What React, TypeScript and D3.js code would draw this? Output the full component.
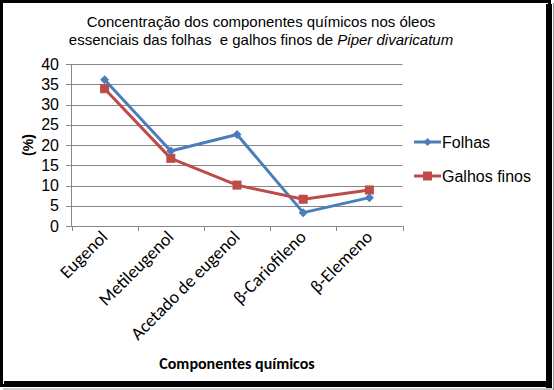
import React from "react";
import * as d3 from "d3";

const categories = ["Eugenol", "Metileugenol", "Acetado de eugenol", "β-Cariofileno", "β-Elemeno"];
const folhas = [36.1, 18.5, 22.6, 3.3, 7.0];
const galhos = [33.9, 16.7, 10.1, 6.6, 8.9];
const yTicks = [0, 5, 10, 15, 20, 25, 30, 35, 40];

const W = 554, H = 390;
const blue = "#4A7EBB", red = "#BE4B48", grid = "#868686";

export default function App() {
  const x = d3.scaleBand().domain(categories).range([71.5, 402.5]);
  const y = d3.scaleLinear().domain([0, 40]).range([226, 64]);
  const cx = (c: string) => (x(c) as number) + x.bandwidth() / 2;
  const line = d3.line<number>().x((_, i) => cx(categories[i])).y(d => y(d));
  const diamond = (px: number, py: number, r: number) => `M${px},${py - r}L${px + r},${py}L${px},${py + r}L${px - r},${py}Z`;
  const bounds = [...categories.map(c => x(c) as number), 402.5];
  return (
    <svg width={W} height={H} style={{ position: "absolute", left: 0, top: 0 }}>
      <rect x={0} y={0} width={W} height={H} fill="white" />
      <rect x={1.5} y={1.5} width={548} height={384} fill="none" stroke="black" strokeWidth={3} />
      <rect x={546} y={4} width={6} height={384} fill="black" />
      <rect x={4} y={381} width={548} height={6} fill="black" />
      <line x1={3} x2={554} y1={389} y2={389} stroke="#999" strokeWidth={1} />
      <line x1={553.5} x2={553.5} y1={3} y2={390} stroke="#999" strokeWidth={1} />
      <g fontFamily="Liberation Sans, Arial, sans-serif" fontSize={15} textAnchor="middle" fill="#000">
        <text x={261} y={27}>Concentração dos componentes químicos nos óleos</text>
        <text x={261} y={45} style={{ whiteSpace: "pre" }}>{"essenciais das folhas\u00A0 e galhos finos de "}<tspan fontStyle="italic">Piper divaricatum</tspan></text>
      </g>
      {yTicks.map(t => (
        <g key={t}>
          <line x1={66} x2={402.5} y1={Math.round(y(t)) + 0.5} y2={Math.round(y(t)) + 0.5} stroke={grid} strokeWidth={1} />
          <text x={59} y={y(t) + 5.5} textAnchor="end" fontFamily="Liberation Sans, Arial, sans-serif" fontSize={16}>{t}</text>
        </g>
      ))}
      <line x1={71.5} x2={71.5} y1={64} y2={226} stroke={grid} />
      {bounds.map((b, i) => (
        <line key={i} x1={Math.round(b) + 0.5} x2={Math.round(b) + 0.5} y1={226} y2={231} stroke={grid} />
      ))}
      <text transform="translate(33,145) rotate(-90)" textAnchor="middle" fontFamily="Liberation Sans, Arial, sans-serif" fontWeight="bold" fontSize={14}>(%)</text>
      {categories.map(c => (
        <text key={c} transform={`translate(${cx(c) + 4},${238}) rotate(-45)`} textAnchor="end" fontFamily="Carlito, Lato, sans-serif" fontSize={18}>{c}</text>
      ))}
      <text x={237} y={369} textAnchor="middle" fontFamily="Carlito, Lato, sans-serif" fontWeight="bold" fontSize={16}>Componentes químicos</text>
      <path d={line(folhas) || ""} fill="none" stroke={blue} strokeWidth={3} strokeLinejoin="round" />
      <path d={line(galhos) || ""} fill="none" stroke={red} strokeWidth={3} strokeLinejoin="round" />
      {galhos.map((v, i) => (
        <rect key={i} x={cx(categories[i]) - 4.5} y={y(v) - 4.5} width={9} height={9} fill={red} />
      ))}
      {folhas.map((v, i) => (
        <path key={i} d={diamond(cx(categories[i]), y(v), 4.5)} fill={blue} />
      ))}
      <g>
        <line x1={414} x2={441} y1={142} y2={142} stroke={blue} strokeWidth={3} />
        <path d={diamond(427.5, 142, 4)} fill={blue} />
        <text x={442} y={148} fontFamily="Liberation Sans, Arial, sans-serif" fontSize={16}>Folhas</text>
        <line x1={414} x2={441} y1={176} y2={176} stroke={red} strokeWidth={3} />
        <rect x={423} y={171.5} width={9} height={9} fill={red} />
        <text x={442} y={182} fontFamily="Liberation Sans, Arial, sans-serif" fontSize={16}>Galhos finos</text>
      </g>
    </svg>
  );
}
